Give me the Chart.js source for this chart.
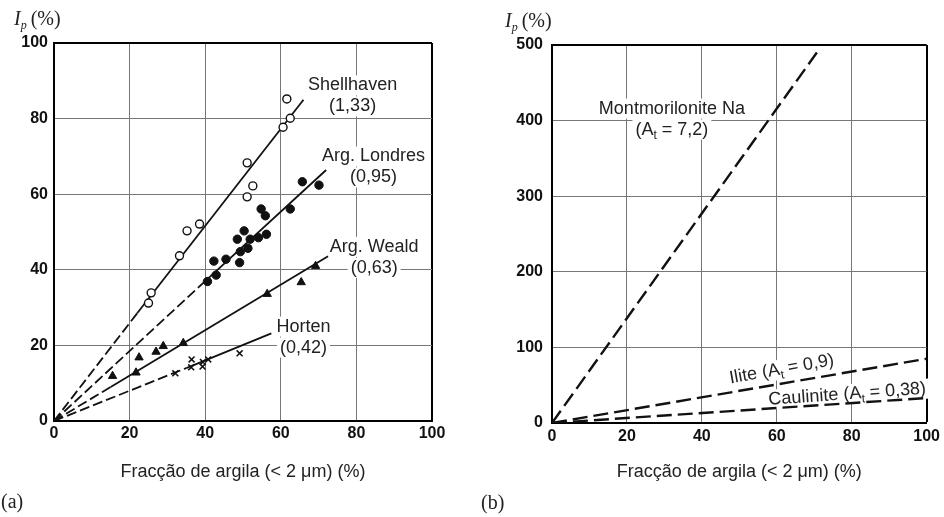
<!DOCTYPE html>
<html><head><meta charset="utf-8">
<script src="https://cdn.jsdelivr.net/npm/chart.js@4.4.1/dist/chart.umd.min.js"></script>
<style>
html,body{margin:0;padding:0;background:#fff}
body{width:944px;height:517px;overflow:hidden;position:relative}
canvas{position:absolute;top:0}
#cA{left:0}
#cB{left:470px}
.ip{position:absolute;font-family:'Liberation Serif',serif;font-size:20px;color:#222;line-height:22px;white-space:nowrap}
.ip i{font-style:italic}
.ip sub{font-size:12px;vertical-align:-4px;line-height:0}
.pl{position:absolute;font-family:'Liberation Serif',serif;font-size:20px;color:#222;line-height:22px}
</style></head>
<body>
<canvas id="cA" width="470" height="517"></canvas>
<canvas id="cB" width="474" height="517"></canvas>
<div class="ip" style="left:14px;top:7px"><i>I<sub>p</sub></i>&thinsp;(%)</div>
<div class="ip" style="left:505px;top:9px"><i>I<sub>p</sub></i>&thinsp;(%)</div>
<div class="pl" style="left:1px;top:490px">(a)</div>
<div class="pl" style="left:481px;top:491px">(b)</div>
<script>
// ---------- data ----------
const xTicksA = [0, 20, 40, 60, 80, 100];
const yTicksA = [0, 20, 40, 60, 80, 100];
const xTicksB = [0, 20, 40, 60, 80, 100];
const yTicksB = [0, 100, 200, 300, 400, 500];

const shellhavenX = [25, 25.7, 33.2, 35.2, 38.5, 51.1, 51.1, 52.6, 60.6, 62.5, 61.6];
const shellhavenY = [31.2, 33.9, 43.7, 50.3, 52.1, 68.3, 59.3, 62.2, 77.7, 80.1, 85.2];

const londresX = [40.6, 42.9, 42.3, 45.5, 49.1, 48.5, 50.3, 49.3, 51.3, 51.9, 54.1, 56.2, 54.8, 55.9, 62.5, 65.7, 70.1];
const londresY = [36.9, 38.6, 42.3, 42.8, 41.9, 48.1, 50.3, 44.8, 45.7, 48.1, 48.5, 49.4, 56.1, 54.3, 56.1, 63.3, 62.4];

const wealdX = [15.5, 21.7, 22.5, 27, 28.9, 34.2, 56.4, 65.4, 69.2];
const wealdY = [11.9, 12.8, 16.8, 18.3, 19.8, 20.6, 33.6, 36.7, 41];

const hortenX = [32.1, 36.4, 36.3, 39.3, 39.4, 40.8, 49.1];
const hortenY = [12.6, 16.3, 14.2, 14.4, 15.6, 16.3, 17.9];

// fitted lines: first segment dashed, second solid
const shellLineX = [0, 22, 66];
const shellLineY = [0, 28.5, 85];
const londresLineX = [0, 40, 72];
const londresLineY = [0, 37, 66.4];
const wealdLineX = [0, 15, 72.5];
const wealdLineY = [0, 9, 43.6];
const hortenLineX = [0, 35, 57.5];
const hortenLineY = [0, 14, 23.2];

// panel (b) lines
const montLineX = [0, 70.7];
const montLineY = [0, 490];
const iliteLineX = [0, 100];
const iliteLineY = [0, 85];
const caulLineX = [0, 100];
const caulLineY = [0, 33];

const xTitle = 'Fracção de argila (< 2 μm) (%)';

// ---------- helpers ----------
const pts = (xs, ys) => xs.map((x, i) => ({x: x, y: ys[i]}));
const TICK_FONT = {family: "'Liberation Sans', Arial, sans-serif", size: 16, weight: 'bold'};
const LABEL_FONT = "18px 'Liberation Sans', Arial, sans-serif";
const SUB_FONT = "12px 'Liberation Sans', Arial, sans-serif";

function axis(ticksArr, isX, size, pad, title) {
  const max = ticksArr[ticksArr.length - 1];
  return {
    type: 'linear',
    position: isX ? 'bottom' : 'left',
    min: ticksArr[0], max: max,
    afterBuildTicks: s => { s.ticks = ticksArr.map(v => ({value: v})); },
    afterFit: s => { if (isX) s.height = size; else s.width = size; },
    grid: {
      drawTicks: false,
      color: c => (c.tick && c.tick.value === max) ? '#000' : '#777',
      lineWidth: c => (c.tick && c.tick.value === max) ? 2 : 1
    },
    border: {display: true, color: '#000', width: 2},
    ticks: {font: TICK_FONT, color: '#111', padding: pad, autoSkip: false, maxRotation: 0},
    title: title ? {display: true, text: title, color: '#222',
      font: {family: "'Liberation Sans', Arial, sans-serif", size: 18},
      padding: {top: 0, bottom: 34}} : {display: false}
  };
}

function drawRich(ctx, str, x, y, measureOnly) {
  const parts = [];
  const re = /_\{(.*?)\}/g;
  let last = 0, m;
  while ((m = re.exec(str))) {
    if (m.index > last) parts.push({t: str.slice(last, m.index), sub: false});
    parts.push({t: m[1], sub: true});
    last = re.lastIndex;
  }
  if (last < str.length) parts.push({t: str.slice(last), sub: false});
  let w = 0;
  parts.forEach(p => { ctx.font = p.sub ? SUB_FONT : LABEL_FONT; p.w = ctx.measureText(p.t).width; w += p.w; });
  if (measureOnly) return w;
  let cx = x - w / 2;
  parts.forEach(p => {
    ctx.font = p.sub ? SUB_FONT : LABEL_FONT;
    ctx.fillText(p.t, cx, p.sub ? y + 6 : y);
    cx += p.w;
  });
  return w;
}

const labelPlugin = {
  id: 'curveLabels',
  beforeDatasetsDraw(chart, args, opts) { this._draw(chart, opts, true); },
  afterDatasetsDraw(chart, args, opts) { this._draw(chart, opts, false); },
  _draw(chart, opts, bg) {
    const ctx = chart.ctx;
    const xs = chart.scales.x, ys = chart.scales.y;
    (opts.items || []).forEach(it => {
      const px = xs.getPixelForValue(it.x), py = ys.getPixelForValue(it.y);
      ctx.save();
      ctx.translate(px, py);
      ctx.rotate((it.rot || 0) * Math.PI / 180);
      ctx.textBaseline = 'middle';
      ctx.textAlign = 'left';
      const lh = 21;
      const n = it.lines.length;
      it.lines.forEach((ln, i) => {
        const ly = (i - (n - 1) / 2) * lh;
        if (bg) {
          const w = drawRich(ctx, ln, 0, ly, true);
          ctx.fillStyle = '#fff';
          ctx.fillRect(-w / 2 - 3, ly - 10, w + 6, 20);
        } else {
          ctx.fillStyle = '#222';
          drawRich(ctx, ln, 0, ly, false);
        }
      });
      ctx.restore();
    });
  }
};

function lineDS(xs, ys, dash, width, solidAfterFirst) {
  return {
    type: 'scatter', showLine: true, data: pts(xs, ys),
    borderColor: '#111', borderWidth: width, pointRadius: 0, order: 2,
    borderDash: solidAfterFirst ? [] : dash,
    segment: solidAfterFirst ? {borderDash: c => c.p0DataIndex === 0 ? dash : []} : undefined
  };
}

const DASH_A = [10, 4];
const DASH_B = [15, 6];

new Chart(document.getElementById('cA'), {
  type: 'scatter',
  data: {datasets: [
    lineDS(shellLineX, shellLineY, DASH_A, 1.8, true),
    lineDS(londresLineX, londresLineY, DASH_A, 1.8, true),
    lineDS(wealdLineX, wealdLineY, DASH_A, 1.8, true),
    lineDS(hortenLineX, hortenLineY, DASH_A, 1.8, true),
    {data: pts(shellhavenX, shellhavenY), pointStyle: 'circle', pointRadius: 4,
     backgroundColor: '#fff', borderColor: '#111', borderWidth: 1.4, order: 1},
    {data: pts(londresX, londresY), pointStyle: 'circle', pointRadius: 4.2,
     backgroundColor: '#111', borderColor: '#111', borderWidth: 1, order: 1},
    {data: pts(wealdX, wealdY), pointStyle: 'triangle', pointRadius: 4.8,
     backgroundColor: '#111', borderColor: '#111', borderWidth: 1, order: 1},
    {data: pts(hortenX, hortenY), pointStyle: 'crossRot', pointRadius: 4.2,
     backgroundColor: '#111', borderColor: '#111', borderWidth: 1.5, order: 1}
  ]},
  options: {
    responsive: false, animation: false, devicePixelRatio: 1,
    layout: {padding: {top: 43, right: 38, left: 0, bottom: 0}},
    scales: {x: axis(xTicksA, true, 96, 3, xTitle), y: axis(yTicksA, false, 54, 6, null)},
    plugins: {legend: {display: false}, tooltip: {enabled: false},
      curveLabels: {items: [
        {x: 79, y: 86, lines: ['Shellhaven', '(1,33)']},
        {x: 84.5, y: 67.2, lines: ['Arg. Londres', '(0,95)']},
        {x: 84.7, y: 43.3, lines: ['Arg. Weald', '(0,63)']},
        {x: 66, y: 22.2, lines: ['Horten', '(0,42)']}
      ]}}
  },
  plugins: [labelPlugin]
});

new Chart(document.getElementById('cB'), {
  type: 'scatter',
  data: {datasets: [
    lineDS(montLineX, montLineY, DASH_B, 2.4, false),
    lineDS(iliteLineX, iliteLineY, DASH_B, 2.4, false),
    lineDS(caulLineX, caulLineY, DASH_B, 2.4, false)
  ]},
  options: {
    responsive: false, animation: false, devicePixelRatio: 1,
    layout: {padding: {top: 45, right: 15, left: 0, bottom: 0}},
    scales: {x: axis(xTicksB, true, 94, 4, xTitle), y: axis(yTicksB, false, 82, 9, null)},
    plugins: {legend: {display: false}, tooltip: {enabled: false},
      curveLabels: {items: [
        {x: 32, y: 402, lines: ['Montmorilonite Na', '(A_{t} = 7,2)']},
        {x: 61.3, y: 71, rot: -10, lines: ['Ilite (A_{t} = 0,9)']},
        {x: 78.8, y: 38, rot: -4, lines: ['Caulinite (A_{t} = 0,38)']}
      ]}}
  },
  plugins: [labelPlugin]
});
</script>
</body></html>
